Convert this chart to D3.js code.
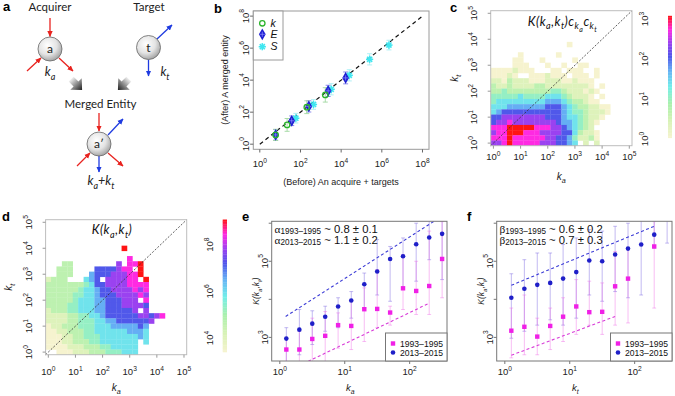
<!DOCTYPE html>
<html><head><meta charset="utf-8">
<script src="https://cdn.jsdelivr.net/npm/d3@7/dist/d3.min.js"></script>
<style>html,body{margin:0;padding:0;background:#fff;}svg{display:block;}</style>
</head><body>
<svg id="fig" width="675" height="396" viewBox="0 0 675 396"></svg>
<script>
// ================= DATA =================
// Panel b : before (acquirer + targets) vs after (merged entity)
const bKx = [6.0, 22, 204, 1660];
const bKy = [3.8, 16, 204, 1200];
const bKerr = [0.35, 0.4, 0.4, 0.45];            // log10 half-width of error bars
const bEx = [6.0, 37, 257, 2290, 16600];
const bEy = [3.8, 29, 229, 2140, 13800];
const bEerr = [0.33, 0.3, 0.35, 0.35, 0.37];
const bSx = [59, 437, 3240, 25100, 251000, 2240000];
const bSy = [42, 302, 2690, 20000, 200000, 1550000];
const bSerr = [0.3, 0.3, 0.35, 0.35, 0.35, 0.3];
const bTickExp = [0, 2, 4, 6, 8];
const bLegend = ["k", "E", "S"];

// Panels c,d : heat maps, bins of 0.2 decade centred on 10^(0.2 i).
// Each character is a colour level 0..9 (value = 10^(lo + level*(hi-lo)/9)), '.' = empty.
// rows listed from top to bottom (last string = k_t ~ 10^0)
const heatC = [
  "..............0",
  "",
  ".....0......0",
  "....00...0.....0",
  "....000...0..0..00",
  "00001000...00.000..0",
  "00010..0001000.000.0",
  "1102111000111001000",
  "2112111122111111110.0",
  "22322222222332111010",
  "3333343333444321110.0",
  "34444444445554322100",
  "4445555555666543221100",
  "4566666666666543321110",
  "667777777766654432110",
  "67787777777765543210",
  "8889999988877654321",
  "78899988877776642110",
  "88898888887766531120",
  "7789888887776654.1.1"
];
const heatCRange = [0.03, 3.08];      // log10 of colour-bar limits
const heatCBarExp = [0, 1, 2, 3];
const heatD = [
  "..............9",
  "",
  "...............8",
  "...22........7.889",
  "..222....6666788.9",
  "..222...5666777889",
  "1222...456.777788.9",
  "2222222346677778888",
  "2222223445667777878",
  "2222233445666777787",
  "22222344455666777.8",
  "2222334445566677776",
  "12223344455666667.7",
  "1111223344566666677678",
  "11112233344556666667",
  "0112223334445555565",
  "0011222334444445554",
  "0001122333444444454",
  "00011222334444444.4",
  "00001112223344444",
  "..000111222333444"
];
const heatDRange = [3.4, 9.08];
const heatDBarExp = [4, 6, 8];
const heatTickExp = [0, 1, 2, 3, 4, 5];

// Panels e,f : K(ka,kt) vs ka (e) and vs kt (f)
const kBins = [1.26, 2, 3.16, 5, 7.9, 12.6, 20, 31.6, 50, 79, 126, 200, 316];
const e13 = [930, 1600, 2300, 3500, 6500, 9300, 25000, 54000, 115000, 135000, 280000, 420000, 525000];
const e13lo = [230, 350, 650, 1450, 1800, 3200, 5900, 13000, 8900, 20000, 30000, 110000, 33000];
const e13hi = [1800, 5400, 5000, 6600, 11000, 16000, 49000, 370000, 245000, 410000, 1000000, 1600000, 1600000];
const e93 = [480, 480, 910, 1100, 2100, 2000, 5500, 5600, 4500, 19500, 16600, 22400, 115000];
const e93lo = [200, 200, 230, 200, 520, 480, 780, 1800, 2100, 5400, 4000, 4000, 11000];
const e93hi = [950, 1450, 3200, 4800, 4400, 8900, 20000, 60000, 6600, 150000, 100000, 620000, 1100000];
const eFit13 = [[1.23, 3550], [275, 1320000]];
const eFit93 = [[2.72, 234], [190, 7600]];
const f13 = [11000, 19000, 24000, 27000, 35000, 52000, 105000, 100000, 150000, 215000, 275000, 500000, 1800000];
const f13lo = [950, 1450, 2100, 2900, 2100, 3200, 13000, 8900, 16000, 11000, 13000, 220000, 300000];
const f13hi = [47000, 110000, 165000, 165000, 275000, 410000, 680000, 620000, 830000, 1000000, 1260000, 1600000, 3200000];
const f93 = [1500, 1900, 1050, 2000, 3500, 6500, 4600, 4700, 22000, 35000, null, 245000, null];
const f93lo = [290, 350, 350, 480, 780, 1200, 2100, 1200, 2100, 2400, null, 5900, null];
const f93hi = [5900, 13000, 3200, 5900, 11000, 33000, 30000, 27000, 180000, 220000, null, 1100000, null];
const fFit13 = [[1.26, 23400], [200, 832000]];
const fFit93 = [[1.26, 340], [50, 3550]];
const kXTickExp = [0, 1, 2];
const kYTickExp = [3, 4, 5, 6];
const kYLabelExp = [3, 5];
const seriesNames = ["1993\u20131995", "2013\u20132015"];

// ================= DRAWING =================
const svg = d3.select("#fig");
const SANS = "'Liberation Sans', Arial, Helvetica, sans-serif";
const AV = "Lato, 'Open Sans', 'Noto Sans', sans-serif";
const SER = "'Liberation Serif', 'DejaVu Serif', serif";
const P = v => Math.pow(10, v);
const pal = d3.scaleLinear()
  .domain([0, 0.14, 0.28, 0.42, 0.55, 0.67, 0.78, 0.89, 1])
  .range(["#f6f3cf", "#d8f2b6", "#aaf0ac", "#72eeea", "#66b2f4", "#4f55ea", "#9c42f0", "#ff2ae2", "#ff1414"])
  .clamp(true);
const defs = svg.append("defs");

function pow10Text(g, x, y, exp, fs, rot) {
  const t = g.append("text").attr("font-family", SANS).attr("font-size", fs)
    .attr("fill", "#222").attr("text-anchor", "middle");
  if (rot) t.attr("transform", `translate(${x},${y}) rotate(-90)`); else t.attr("x", x).attr("y", y);
  t.append("tspan").text("10");
  t.append("tspan").attr("dy", -fs * 0.45).attr("font-size", fs * 0.7).text(exp);
  return t;
}
function rich(g, x, y, segs, fs, family, opt = {}) {
  const t = g.append("text").attr("font-family", family).attr("font-size", fs)
    .attr("fill", opt.fill || "#111").attr("text-anchor", opt.anchor || "middle")
    .attr("font-style", opt.italic ? "italic" : "normal");
  if (opt.ls) t.attr("letter-spacing", opt.ls);
  if (opt.rot) t.attr("transform", `translate(${x},${y}) rotate(-90)`); else t.attr("x", x).attr("y", y);
  let cur = 0;
  const subOff = opt.subOff != null ? opt.subOff : 0.28;
  segs.forEach(s => {
    const [txt, lvl, fam] = s;
    const off = lvl === 1 ? fs * subOff : lvl === 2 ? fs * 0.5 : 0;
    const size = lvl === 1 ? fs * 0.72 : lvl === 2 ? fs * 0.56 : fs;
    const ts = t.append("tspan").attr("dy", off - cur).attr("font-size", size).text(txt);
    if (fam) ts.attr("font-family", fam);
    cur = off;
  });
  return t;
}
function panelLabel(x, y, s) {
  svg.append("text").attr("x", x).attr("y", y).attr("font-family", SANS)
    .attr("font-weight", "bold").attr("font-size", 13).attr("fill", "#000").text(s);
}
function clip(id, x0, y0, x1, y1) {
  defs.append("clipPath").attr("id", id).append("rect")
    .attr("x", x0).attr("y", y0).attr("width", x1 - x0).attr("height", y1 - y0);
  return `url(#${id})`;
}

// ---------------- Panel a (schematic) ----------------
(function () {
  const g = svg.append("g");
  const rg = defs.append("radialGradient").attr("id", "ball").attr("cx", "40%").attr("cy", "35%").attr("r", "70%");
  rg.append("stop").attr("offset", "0%").attr("stop-color", "#ffffff");
  rg.append("stop").attr("offset", "55%").attr("stop-color", "#e4e4e4");
  rg.append("stop").attr("offset", "100%").attr("stop-color", "#9c9c9c");
  const lg = defs.append("linearGradient").attr("id", "blk").attr("x1", "0").attr("y1", "0").attr("x2", "1").attr("y2", "0");
  lg.append("stop").attr("offset", "0%").attr("stop-color", "#f0f0f0");
  lg.append("stop").attr("offset", "100%").attr("stop-color", "#1e1e1e");
  [["arR", "#e8231f"], ["arB", "#1f3be0"]].forEach(([id, c]) => {
    defs.append("marker").attr("id", id).attr("viewBox", "0 0 10 10").attr("refX", 9).attr("refY", 5)
      .attr("markerWidth", 6).attr("markerHeight", 6).attr("markerUnits", "userSpaceOnUse").attr("orient", "auto")
      .append("path").attr("d", "M0,0.5 L10,5 L0,9.5 z").attr("fill", c);
  });
  const arrows = [
    [50, 18, 50, 36.5, "R"], [27, 71, 41, 58, "R"], [59, 58, 73, 71, "R"],
    [157, 39, 172, 25, "B"], [148.5, 59.5, 148.5, 76, "B"],
    [99, 113, 99, 131, "R"], [108, 135, 123, 119, "B"], [77, 166, 90, 153, "R"],
    [99, 156, 99, 172, "B"], [108, 153, 123, 166, "R"]
  ];
  arrows.forEach(([x1, y1, x2, y2, c]) => {
    g.append("line").attr("x1", x1).attr("y1", y1).attr("x2", x2).attr("y2", y2)
      .attr("stroke", c === "R" ? "#e8231f" : "#1f3be0").attr("stroke-width", 1.3)
      .attr("marker-end", `url(#ar${c})`);
  });
  [[50, 49, "a"], [148.5, 47.5, "t"], [99, 144, "a\u2032"]].forEach(([x, y, s]) => {
    g.append("circle").attr("cx", x).attr("cy", y).attr("r", 12).attr("fill", "url(#ball)")
      .attr("stroke", "#666").attr("stroke-width", 0.8);
    g.append("text").attr("x", x).attr("y", y + 4).attr("text-anchor", "middle").attr("font-family", AV)
      .attr("font-size", 12).attr("fill", "#222").text(s);
  });
  const blk = "M-6,-3 L0,-3 L0,-7 L7.5,0 L0,7 L0,3 L-6,3 Z";
  g.append("path").attr("d", blk).attr("fill", "url(#blk)").attr("transform", "translate(76,84) rotate(45) scale(1.15)");
  g.append("path").attr("d", blk).attr("fill", "url(#blk)").attr("transform", "translate(124,84) rotate(135) scale(1.15)");
  const txt = (x, y, s, fs) => g.append("text").attr("x", x).attr("y", y).attr("text-anchor", "middle")
    .attr("font-family", AV).attr("font-size", fs).attr("fill", "#222").text(s);
  txt(50, 11, "Acquirer", 11.5);
  txt(149, 10.5, "Target", 11.5);
  txt(100.5, 107.5, "Merged Entity", 11.5);
  rich(g, 50, 76, [["k", 0], ["a", 1]], 12.5, AV, { italic: true, fill: "#222" });
  rich(g, 165, 76, [["k", 0], ["t", 1]], 12.5, AV, { italic: true, fill: "#222" });
  rich(g, 101, 185, [["k", 0], ["a", 1], ["+", 0], ["k", 0], ["t", 1]], 12.5, AV, { italic: true, fill: "#222" });
  panelLabel(3, 11, "a");
})();

// ---------------- Panel b ----------------
(function () {
  const g = svg.append("g");
  const dom = [P(-0.32), P(8.32)];
  const x = d3.scaleLog().domain(dom).range([253.3, 429]);
  const y = d3.scaleLog().domain(dom).range([149.3, 11]);
  g.append("rect").attr("x", 253.3).attr("y", 11).attr("width", 429 - 253.3).attr("height", 149.3 - 11)
    .attr("fill", "none").attr("stroke", "#9a9a9a");
  bTickExp.forEach(e => {
    g.append("line").attr("x1", x(P(e))).attr("x2", x(P(e))).attr("y1", 149.3).attr("y2", 152.5).attr("stroke", "#666");
    g.append("line").attr("y1", y(P(e))).attr("y2", y(P(e))).attr("x1", 253.3).attr("x2", 250.1).attr("stroke", "#666");
    pow10Text(g, x(P(e)), 167, e, 9.5, false);
    pow10Text(g, 248.5, y(P(e)), e, 9.5, true);
  });
  g.append("line").attr("x1", x(1)).attr("y1", y(1)).attr("x2", x(1e8)).attr("y2", y(1e8))
    .attr("stroke", "#111").attr("stroke-width", 1.2).attr("stroke-dasharray", "4,3.2");
  const ebar = (xs, ys, er, col) => xs.forEach((xv, i) => {
    const cx = x(xv), y0 = y(ys[i] * P(-er[i])), y1 = y(ys[i] * P(er[i]));
    g.append("line").attr("x1", cx).attr("x2", cx).attr("y1", y0).attr("y2", y1).attr("stroke", col).attr("stroke-width", 0.9);
    [y0, y1].forEach(yy => g.append("line").attr("x1", cx - 2.5).attr("x2", cx + 2.5).attr("y1", yy).attr("y2", yy)
      .attr("stroke", col).attr("stroke-width", 0.9));
  });
  ebar(bSx, bSy, bSerr, "#a6eef4");
  ebar(bEx, bEy, bEerr, "#7d7de8");
  ebar(bKx, bKy, bKerr, "#9fd89f");
  const star = (cx, cy, r) => {
    const s = g.append("g").attr("transform", `translate(${cx},${cy})`);
    [0, 45, 90, 135].forEach(a => s.append("line").attr("x1", -r).attr("x2", r).attr("y1", 0).attr("y2", 0)
      .attr("transform", `rotate(${a})`).attr("stroke", "#3fe6f0").attr("stroke-width", 1.6));
    s.append("circle").attr("r", 1.8).attr("fill", "#3fe6f0");
  };
  const diam = (cx, cy) => {
    g.append("path").attr("d", d3.symbol().type(d3.symbolDiamond).size(40)()).attr("transform", `translate(${cx},${cy})`)
      .attr("fill", "#1c1cd2");
    g.append("path").attr("d", "M-2.6,0 H2.6 M0,-2.6 V2.6").attr("transform", `translate(${cx},${cy})`)
      .attr("stroke", "#8f8fff").attr("stroke-width", 0.7);
  };
  const ring = (cx, cy) => g.append("circle").attr("cx", cx).attr("cy", cy).attr("r", 2.7)
    .attr("fill", "none").attr("stroke", "#2cb42c").attr("stroke-width", 1.3);
  bSx.forEach((v, i) => star(x(v), y(bSy[i]), 3.6));
  bEx.forEach((v, i) => diam(x(v), y(bEy[i])));
  bKx.forEach((v, i) => ring(x(v), y(bKy[i])));
  // legend
  g.append("rect").attr("x", 253.3).attr("y", 11).attr("width", 29.7).attr("height", 49)
    .attr("fill", "#fff").attr("stroke", "#9a9a9a");
  const ly = [23.3, 34.3, 46.7];
  ring(262.3, ly[0]); diam(262.3, ly[1]); star(262.3, ly[2], 3.6);
  bLegend.forEach((s, i) => g.append("text").attr("x", 270.5).attr("y", ly[i] + 3.6).attr("font-family", SANS)
    .attr("font-style", "italic").attr("font-size", 10.5).attr("fill", "#111").text(s));
  g.append("text").attr("x", 341).attr("y", 184.5).attr("text-anchor", "middle").attr("font-family", SANS)
    .attr("font-size", 9).attr("fill", "#222").text("(Before) An acquire + targets");
  g.append("text").attr("transform", "translate(227.5,80) rotate(-90)").attr("text-anchor", "middle")
    .attr("font-family", SANS).attr("font-size", 9).attr("fill", "#222").text("(After) A merged entity");
  panelLabel(214, 13, "b");
})();

// ---------------- Panels c, d (heat maps) ----------------
function heatPanel(o) {
  const g = svg.append("g");
  const dom = [P(-0.1), P(5.1)];
  const x = d3.scaleLog().domain(dom).range([o.x0, o.x1]);
  const y = d3.scaleLog().domain(dom).range([o.y1, o.y0]);
  const [lo, hi] = o.range;
  const col = v => pal((Math.log10(v) - lo) / (hi - lo));
  const n = o.rows.length;
  o.rows.forEach((row, idx) => {
    const j = n - 1 - idx;
    [...row].forEach((ch, i) => {
      if (ch === ".") return;
      const v = P(lo + (+ch) / 9 * (hi - lo));
      const xa = x(P(0.2 * i - 0.1)), xb = x(P(0.2 * i + 0.1));
      const ya = y(P(0.2 * j + 0.1)), yb = y(P(0.2 * j - 0.1));
      g.append("rect").attr("x", xa).attr("y", ya).attr("width", xb - xa + 0.25).attr("height", yb - ya + 0.25)
        .attr("fill", col(v));
    });
  });
  g.append("line").attr("x1", x(dom[0])).attr("y1", y(dom[0])).attr("x2", x(dom[1])).attr("y2", y(dom[1]))
    .attr("stroke", "#333").attr("stroke-width", 0.8).attr("stroke-dasharray", "2,1.6");
  g.append("rect").attr("x", o.x0).attr("y", o.y0).attr("width", o.x1 - o.x0).attr("height", o.y1 - o.y0)
    .attr("fill", "none").attr("stroke", "#bdbdbd");
  heatTickExp.forEach(e => {
    g.append("line").attr("x1", x(P(e))).attr("x2", x(P(e))).attr("y1", o.y1).attr("y2", o.y1 + 3).attr("stroke", "#999");
    g.append("line").attr("y1", y(P(e))).attr("y2", y(P(e))).attr("x1", o.x0).attr("x2", o.x0 - 3).attr("stroke", "#999");
    pow10Text(g, x(P(e)), o.xLabY, e, 9.5, false);
    pow10Text(g, o.yLabX, y(P(e)), e, 9.5, true);
  });
  rich(g, o.title[0], o.title[1], o.titleSegs, 12.5, AV, { italic: true, fill: "#111", ls: 0.5 });
  rich(g, (o.x0 + o.x1) / 2, o.xAxisY, [["k", 0], ["a", 1]], 10, SANS, { italic: true, fill: "#222" });
  rich(g, o.yAxisX, (o.y0 + o.y1) / 2, [["k", 0], ["t", 1]], 10, SANS, { italic: true, fill: "#222", rot: true });
  // colour bar
  const cb = d3.scaleLinear().domain(o.cbDom).range(o.cbRange);
  const N = 80;
  for (let k = 0; k < N; k++) {
    const a = lo + (k / N) * (hi - lo), b = lo + ((k + 1) / N) * (hi - lo);
    g.append("rect").attr("x", o.cbX).attr("y", cb(b)).attr("width", o.cbW).attr("height", cb(a) - cb(b) + 0.3)
      .attr("fill", pal((k + 0.5) / N));
  }
  o.cbExp.forEach(e => pow10Text(g, o.cbLabX, cb(e), e, 9.5, true));
}
heatPanel({
  rows: heatC, range: heatCRange, x0: 490.7, x1: 632, y0: 10.7, y1: 145.7,
  xLabY: 160, yLabX: 477, xAxisY: 180, yAxisX: 458,
  title: [562.5, 25.5], titleSegs: [["K(k", 0], ["a", 1], [",k", 0], ["t", 1], [")c", 0], ["k", 1], ["a", 2], ["c", 0], ["k", 1], ["t", 2]],
  cbDom: [0, 3], cbRange: [139, 19], cbX: 668, cbW: 4, cbLabX: 648, cbExp: heatCBarExp
});
heatPanel({
  rows: heatD, range: heatDRange, x0: 45.6, x1: 186.7, y0: 219.7, y1: 354.7,
  xLabY: 375, yLabX: 32, xAxisY: 391, yAxisX: 12,
  title: [112, 234], titleSegs: [["K(k", 0], ["a", 1], [",k", 0], ["t", 1], [")", 0]],
  cbDom: [4, 8], cbRange: [338, 244.7], cbX: 222.7, cbW: 4.3, cbLabX: 213, cbExp: heatDBarExp
});
panelLabel(450, 12, "c");
panelLabel(2, 221, "d");

// ---------------- Panels e, f ----------------
function kPanel(o) {
  const g = svg.append("g");
  const x = d3.scaleLog().domain([P(-0.125), P(2.575)]).range([o.x0, o.x1]);
  const y = d3.scaleLog().domain([P(2.38), P(6.05)]).range([o.y1, o.y0]);
  const cp = clip(o.id, o.x0, o.y0, o.x1, o.y1);
  const inner = g.append("g").attr("clip-path", cp);
  const bars = (vals, lo, hi, col) => kBins.forEach((kv, i) => {
    if (vals[i] == null) return;
    const cx = x(kv), ya = y(lo[i]), yb = y(hi[i]);
    inner.append("line").attr("x1", cx).attr("x2", cx).attr("y1", ya).attr("y2", yb).attr("stroke", col).attr("stroke-width", 1);
    [ya, yb].forEach(yy => inner.append("line").attr("x1", cx - 1.9).attr("x2", cx + 1.9).attr("y1", yy).attr("y2", yy)
      .attr("stroke", col).attr("stroke-width", 1));
  });
  bars(o.s13, o.s13lo, o.s13hi, "rgba(120,100,225,0.45)");
  bars(o.s93, o.s93lo, o.s93hi, "rgba(240,110,230,0.45)");
  const fit = (pts, col) => inner.append("line").attr("x1", x(pts[0][0])).attr("y1", y(pts[0][1]))
    .attr("x2", x(pts[1][0])).attr("y2", y(pts[1][1])).attr("stroke", col).attr("stroke-width", 1.1)
    .attr("stroke-dasharray", "3,2.4");
  fit(o.fit13, "#3c3cd6");
  fit(o.fit93, "#d83cd8");
  kBins.forEach((kv, i) => {
    if (o.s93[i] != null) inner.append("rect").attr("x", x(kv) - 2.2).attr("y", y(o.s93[i]) - 2.2)
      .attr("width", 4.4).attr("height", 4.4).attr("fill", "#f020e6");
    if (o.s13[i] != null) inner.append("circle").attr("cx", x(kv)).attr("cy", y(o.s13[i])).attr("r", 2.3)
      .attr("fill", "#1f1fc8");
  });
  g.append("rect").attr("x", o.x0).attr("y", o.y0).attr("width", o.x1 - o.x0).attr("height", o.y1 - o.y0)
    .attr("fill", "none").attr("stroke", "#777");
  kXTickExp.forEach(e => {
    g.append("line").attr("x1", x(P(e))).attr("x2", x(P(e))).attr("y1", o.y1).attr("y2", o.y1 + 3).attr("stroke", "#777");
    pow10Text(g, x(P(e)), 375, e, 9.5, false);
  });
  kYTickExp.forEach(e => g.append("line").attr("y1", y(P(e))).attr("y2", y(P(e))).attr("x1", o.x0).attr("x2", o.x0 - 3)
    .attr("stroke", "#777"));
  kYLabelExp.forEach(e => pow10Text(g, o.x0 - 4.2, y(P(e)), e, 9.5, true));
  rich(g, o.x0 - 12.5, 291, [["K(k", 0], ["a", 1], [",k", 0], ["t", 1], [")", 0]], 8.5, SANS, { italic: true, fill: "#222", rot: true });
  rich(g, (o.x0 + o.x1) / 2 - 9, 391, [["k", 0], [o.xsub, 1]], 9.5, SANS, { italic: true, fill: "#222" });
  // annotation (two lines)
  o.ann.forEach((a, i) => rich(g, o.x0 + 2.8, 232.5 + i * 11, [[o.greek, 0, SER], [a[0], 1], [a[1], 0]], 11.3, SANS,
    { anchor: "start", fill: "#111", subOff: 0.14 }));
  // legend
  const lx = o.x1 - 61.5, ly = 333;
  g.append("rect").attr("x", lx).attr("y", ly).attr("width", 61.5).attr("height", o.y1 - ly)
    .attr("fill", "#fff").attr("stroke", "#777");
  g.append("rect").attr("x", lx + 5.3).attr("y", ly + 8.3).attr("width", 4.4).attr("height", 4.4).attr("fill", "#f020e6");
  g.append("circle").attr("cx", lx + 7.5).attr("cy", ly + 19.5).attr("r", 2.3).attr("fill", "#1f1fc8");
  seriesNames.forEach((s, i) => g.append("text").attr("x", lx + 14.5).attr("y", ly + 13.6 + i * 9.2)
    .attr("font-family", SANS).attr("font-size", 8.6).attr("fill", "#111").text(s));
}
kPanel({
  id: "clipE", x0: 271.7, x1: 447, y0: 221.3, y1: 361, xsub: "a", greek: "\u03b1",
  s13: e13, s13lo: e13lo, s13hi: e13hi, s93: e93, s93lo: e93lo, s93hi: e93hi, fit13: eFit13, fit93: eFit93,
  ann: [["1993\u20131995", " ~ 0.8 \u00b1 0.1"], ["2013\u20132015", " ~ 1.1 \u00b1 0.2"]]
});
kPanel({
  id: "clipF", x0: 496.7, x1: 672, y0: 221.3, y1: 361, xsub: "t", greek: "\u03b2",
  s13: f13, s13lo: f13lo, s13hi: f13hi, s93: f93, s93lo: f93lo, s93hi: f93hi, fit13: fFit13, fit93: fFit93,
  ann: [["1993\u20131995", " ~ 0.6 \u00b1 0.2"], ["2013\u20132015", " ~ 0.7 \u00b1 0.3"]]
});
panelLabel(242, 221, "e");
panelLabel(467, 221, "f");
</script>
</body></html>
